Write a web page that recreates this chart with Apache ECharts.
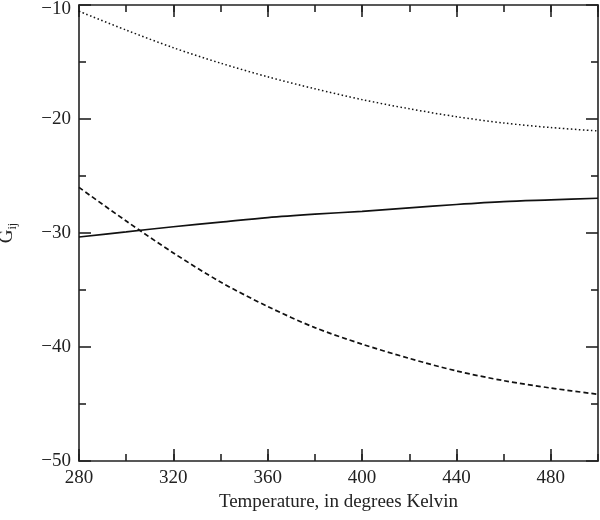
<!DOCTYPE html>
<html>
<head>
<meta charset="utf-8">
<script src="https://cdn.jsdelivr.net/npm/echarts@6/dist/echarts.min.js"></script>
<style>html,body{margin:0;padding:0;background:#fff}#c{width:600px;height:520px}</style>
</head>
<body>
<div id="c"></div>
<script>
const temps = [280, 300, 320, 340, 360, 380, 400, 420, 440, 460, 480, 500];
const solidG = [-30.35, -29.9, -29.45, -29.05, -28.65, -28.35, -28.1, -27.8, -27.5, -27.25, -27.1, -26.95];
const dashedG = [-26.0, -28.95, -31.75, -34.3, -36.45, -38.3, -39.75, -41.0, -42.1, -42.95, -43.6, -44.15];
const dottedG = [-10.55, -12.2, -13.75, -15.1, -16.3, -17.35, -18.3, -19.1, -19.8, -20.35, -20.75, -21.05];
const xTicks = [280, 320, 360, 400, 440, 480];
const yTicks = [-50, -40, -30, -20, -10];

const FONT = '"Liberation Serif", "DejaVu Serif", serif';
const INK = '#222';
const pair = (xs, ys) => xs.map((x, i) => [x, ys[i]]);
const minus = v => String(v).replace('-', '\u2212');

function xAxisDef(pos, major) {
  return {
    type: 'value', position: pos, min: 280, max: 500,
    interval: major ? 40 : 20,
    axisLine: { show: major, lineStyle: { color: INK, width: 1.6 } },
    axisTick: { show: true, inside: true, length: major ? 12 : 7, lineStyle: { color: INK, width: 1.6 } },
    axisLabel: (major && pos === 'bottom') ? {
      show: true, showMaxLabel: false, margin: 8, color: INK, fontFamily: FONT, fontSize: 19,
      formatter: v => xTicks.indexOf(v) >= 0 ? String(v) : ''
    } : { show: false },
    splitLine: { show: false },
    name: (major && pos === 'bottom') ? 'Temperature, in degrees Kelvin' : '',
    nameLocation: 'middle', nameGap: 30,
    nameTextStyle: { color: INK, fontFamily: FONT, fontSize: 19 }
  };
}
function yAxisDef(pos) {
  return {
    type: 'value', position: pos, min: -50, max: -10, interval: 10,
    axisLine: { show: true, lineStyle: { color: INK, width: 1.6 } },
    axisTick: { show: true, inside: true, length: 12, lineStyle: { color: INK, width: 1.6 } },
    minorTick: { show: true, splitNumber: 2, length: 7, lineStyle: { color: INK, width: 1.6 } },
    axisLabel: pos === 'left' ? {
      show: true, margin: 8, color: INK, fontFamily: FONT, fontSize: 19,
      formatter: v => yTicks.indexOf(v) < 0 ? '' : (v === -10 ? '{t|' + minus(v) + '}' : minus(v)),
      rich: { t: { fontFamily: FONT, fontSize: 19, color: INK, padding: [8, 0, 0, 0] } }
    } : { show: false },
    splitLine: { show: false },
    name: pos === 'left' ? '{g|G}{s|ij}' : '',
    nameLocation: 'middle', nameGap: 60, nameRotate: 90,
    nameTextStyle: {
      color: INK, fontFamily: FONT,
      rich: {
        g: { fontFamily: FONT, fontSize: 19, lineHeight: 24, color: INK },
        s: { fontFamily: FONT, fontSize: 12, lineHeight: 12, verticalAlign: 'bottom', color: INK }
      }
    }
  };
}

const chart = echarts.init(document.getElementById('c'), null, { renderer: 'canvas' });
chart.setOption({
  animation: false,
  backgroundColor: '#fff',
  grid: { left: 79, right: 2, top: 5, bottom: 59, containLabel: false, outerBoundsMode: 'none' },
  xAxis: [xAxisDef('bottom', true), xAxisDef('bottom', false), xAxisDef('top', true), xAxisDef('top', false)],
  yAxis: [yAxisDef('left'), yAxisDef('right')],
  series: [
    { type: 'line', data: pair(temps, solidG), smooth: 0.3, showSymbol: false,
      lineStyle: { color: '#111', width: 1.7, type: 'solid' } },
    { type: 'line', data: pair(temps, dashedG), smooth: 0.3, showSymbol: false,
      lineStyle: { color: '#111', width: 1.7, type: [5, 3] } },
    { type: 'line', data: pair(temps, dottedG), smooth: 0.3, showSymbol: false,
      lineStyle: { color: '#111', width: 1.5, type: [1.5, 2.5] } }
  ]
});
</script>
</body>
</html>
